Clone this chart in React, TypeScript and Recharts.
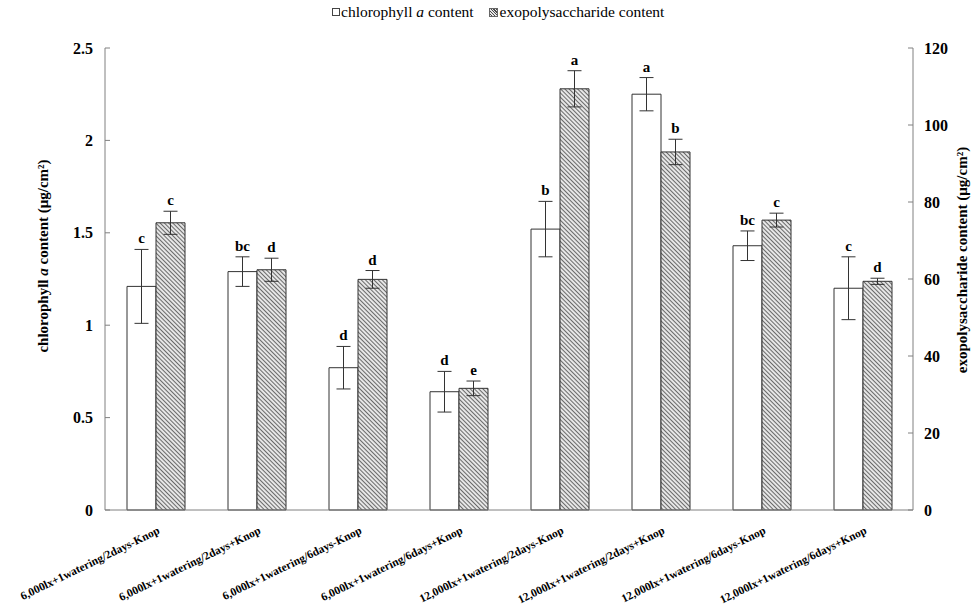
import { Bar, BarChart, ErrorBar, LabelList, XAxis, YAxis } from 'recharts';

const categories = [
  '6,000lx+1watering/2days-Knop',
  '6,000lx+1watering/2days+Knop',
  '6,000lx+1watering/6days-Knop',
  '6,000lx+1watering/6days+Knop',
  '12,000lx+1watering/2days-Knop',
  '12,000lx+1watering/2days+Knop',
  '12,000lx+1watering/6days-Knop',
  '12,000lx+1watering/6days+Knop',
];
const chlorophyll = [1.21, 1.29, 0.77, 0.64, 1.52, 2.25, 1.43, 1.2];
const chlorophyllErr = [0.2, 0.08, 0.115, 0.11, 0.15, 0.09, 0.08, 0.17];
const chlorophyllLetters = ['c', 'bc', 'd', 'd', 'b', 'a', 'bc', 'c'];
const eps = [74.6, 62.4, 59.9, 31.6, 109.4, 93.0, 75.3, 59.4];
const epsErr = [3.0, 3.0, 2.3, 1.9, 4.7, 3.3, 1.8, 0.8];
const epsLetters = ['c', 'd', 'd', 'e', 'a', 'b', 'c', 'd'];
const leftTicks = [0, 0.5, 1, 1.5, 2, 2.5];
const rightTicks = [0, 20, 40, 60, 80, 100, 120];
const boundaryTicks = [1, 2, 3, 4, 5, 6, 7];

const data = categories.map((name, i) => ({
  name,
  chl: chlorophyll[i],
  chlErr: chlorophyllErr[i],
  eps: eps[i],
  epsErr: epsErr[i],
}));

const FONT = 'Liberation Serif, DejaVu Serif, serif';
const AXIS = '#808080';

// letter sits just above the top of the error bar
const letterLabel = (letters: string[], errs: number[]) => (props: any) => {
  const { x, y, width, height, index, value } = props;
  const perUnit = Number(height) / Number(value);
  const top = Number(y) - errs[index] * perUnit;
  return (
    <text
      x={Number(x) + Number(width) / 2}
      y={top - 6}
      textAnchor="middle"
      style={{ fontFamily: FONT, fontWeight: 'bold', fontSize: 15 }}
      fill="#000"
    >
      {letters[index]}
    </text>
  );
};

const XTick = ({ x, y, payload }: any) => (
  <g transform={`translate(${x + 5},${y + 15})`}>
    <text
      transform="rotate(-26)"
      textAnchor="end"
      style={{ fontFamily: FONT, fontWeight: 'bold', fontSize: 11.5 }}
      fill="#000"
    >
      {payload.value}
    </text>
  </g>
);

const tickStyle = { fontFamily: FONT, fontWeight: 'bold', fontSize: 16, fill: '#000' };

export default function App() {
  return (
    <div style={{ position: 'relative', width: 977, height: 611, background: '#fff', fontFamily: FONT }}>
      <style>{'body{margin:0}'}</style>
      <svg width={0} height={0} style={{ position: 'absolute' }}>
        <defs>
          <pattern id="hatch" width={3} height={3} patternUnits="userSpaceOnUse" patternTransform="rotate(-45)">
            <rect width={3} height={3} fill="#e6e6e6" />
            <line x1={0} y1={0} x2={0} y2={3} stroke="#4a4a4a" strokeWidth={1.6} />
          </pattern>
        </defs>
      </svg>
      <div
        style={{
          position: 'absolute',
          top: 3,
          left: 332,
          fontFamily: FONT,
          fontSize: 15.5,
          display: 'flex',
          alignItems: 'center',
          whiteSpace: 'nowrap',
        }}
      >
        <span style={{ display: 'inline-block', width: 6, height: 6, border: '1px solid #444', background: '#fff', marginRight: 1 }} />
        <span>
          chlorophyll <i>a</i> content
        </span>
        <span
          style={{
            display: 'inline-block',
            width: 7,
            height: 7,
            border: '1px solid #666',
            background: 'repeating-linear-gradient(45deg, #e6e6e6 0 1px, #4a4a4a 1px 2px)',
            marginLeft: 15,
            marginRight: 2,
          }}
        />
        <span>exopolysaccharide content</span>
      </div>
      <BarChart
        width={977}
        height={611}
        data={data}
        margin={{ top: 48, right: 0, left: 0, bottom: 0 }}
        barGap={0}
        barSize={29}
      >
        <XAxis
          xAxisId="grid"
          type="number"
          domain={[0, 8]}
          ticks={boundaryTicks}
          height={0}
          mirror
          tickSize={5}
          axisLine={false}
          tickLine={{ stroke: AXIS }}
          tick={() => <g />}
        />
        <XAxis
          dataKey="name"
          interval={0}
          height={101}
          axisLine={{ stroke: AXIS }}
          tickLine={false}
          tick={<XTick />}
        />
        <YAxis
          yAxisId="left"
          domain={[0, 2.5]}
          ticks={leftTicks}
          width={105}
          axisLine={{ stroke: AXIS }}
          tickLine={{ stroke: AXIS }}
          tickSize={-5}
          tickMargin={17}
          tick={tickStyle}
          label={{
            content: () => (
              <text
                transform="translate(48,256) rotate(-90)"
                textAnchor="middle"
                style={{ fontFamily: FONT, fontWeight: 'bold', fontSize: 15 }}
                fill="#000"
              >
                chlorophyll <tspan fontStyle="italic">a</tspan> content (μg/cm²)
              </text>
            ),
          }}
        />
        <YAxis
          yAxisId="right"
          orientation="right"
          domain={[0, 120]}
          ticks={rightTicks}
          width={64}
          axisLine={{ stroke: AXIS }}
          tickLine={{ stroke: AXIS }}
          tickSize={-5}
          tickMargin={16}
          tick={tickStyle}
          label={{
            content: () => (
              <text
                transform="translate(967,260) rotate(-90)"
                textAnchor="middle"
                style={{ fontFamily: FONT, fontWeight: 'bold', fontSize: 15 }}
                fill="#000"
              >
                exopolysaccharide content (μg/cm²)
              </text>
            ),
          }}
        />
        <Bar yAxisId="left" dataKey="chl" fill="#fff" stroke="#333" strokeWidth={1} isAnimationActive={false}>
          <ErrorBar dataKey="chlErr" width={7} stroke="#333" strokeWidth={1} />
          <LabelList dataKey="chl" content={letterLabel(chlorophyllLetters, chlorophyllErr)} />
        </Bar>
        <Bar yAxisId="right" dataKey="eps" fill="url(#hatch)" stroke="#333" strokeWidth={1} isAnimationActive={false}>
          <ErrorBar dataKey="epsErr" width={7} stroke="#333" strokeWidth={1} />
          <LabelList dataKey="eps" content={letterLabel(epsLetters, epsErr)} />
        </Bar>
      </BarChart>
    </div>
  );
}
